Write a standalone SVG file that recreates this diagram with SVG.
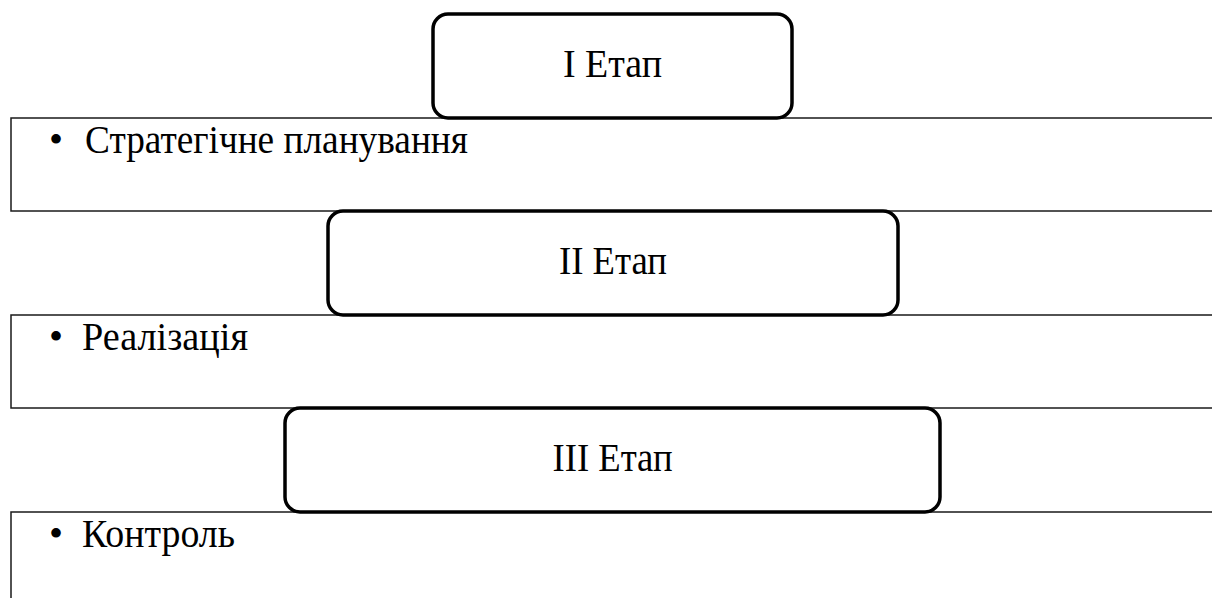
<svg xmlns="http://www.w3.org/2000/svg" width="1212" height="598" viewBox="0 0 1212 598">
  <style>
    .band { fill: #ffffff; stroke: #1a1a1a; stroke-width: 1.5; }
    .stage { fill: #ffffff; stroke: #000000; stroke-width: 3.5; }
    .title { font-family: "Liberation Serif", "Times New Roman", serif; font-size: 40px; fill: #000; text-anchor: middle; }
    .item { font-family: "Liberation Serif", "Times New Roman", serif; font-size: 40px; fill: #000; }
  </style>
  <rect width="1212" height="598" fill="#ffffff"/>

  <!-- Stage I -->
  <g id="band-1">
    <rect class="band" x="11" y="118" width="1215" height="93"/>
    <text class="item" x="49" y="153">•</text>
    <text class="item" x="85" y="153" textLength="383" lengthAdjust="spacingAndGlyphs">Стратегічне планування</text>
  </g>
  <g id="stage-1">
    <rect class="stage" x="433" y="14" width="359" height="104" rx="15" ry="15"/>
    <text class="title" x="612.5" y="77" textLength="99" lengthAdjust="spacingAndGlyphs">I Етап</text>
  </g>

  <!-- Stage II -->
  <g id="band-2">
    <rect class="band" x="11" y="315" width="1215" height="93"/>
    <text class="item" x="49" y="350">•</text>
    <text class="item" x="82" y="350" textLength="166" lengthAdjust="spacingAndGlyphs">Реалізація</text>
  </g>
  <g id="stage-2">
    <rect class="stage" x="328" y="211" width="570" height="104" rx="15" ry="15"/>
    <text class="title" x="613" y="274" textLength="108" lengthAdjust="spacingAndGlyphs">II Етап</text>
  </g>

  <!-- Stage III -->
  <g id="band-3">
    <rect class="band" x="11" y="512" width="1215" height="100"/>
    <text class="item" x="49" y="547">•</text>
    <text class="item" x="82" y="547" textLength="153" lengthAdjust="spacingAndGlyphs">Контроль</text>
  </g>
  <g id="stage-3">
    <rect class="stage" x="285" y="408" width="655" height="104" rx="15" ry="15"/>
    <text class="title" x="612.5" y="471" textLength="120" lengthAdjust="spacingAndGlyphs">III Етап</text>
  </g>

  <g id="connectors"/>
</svg>
